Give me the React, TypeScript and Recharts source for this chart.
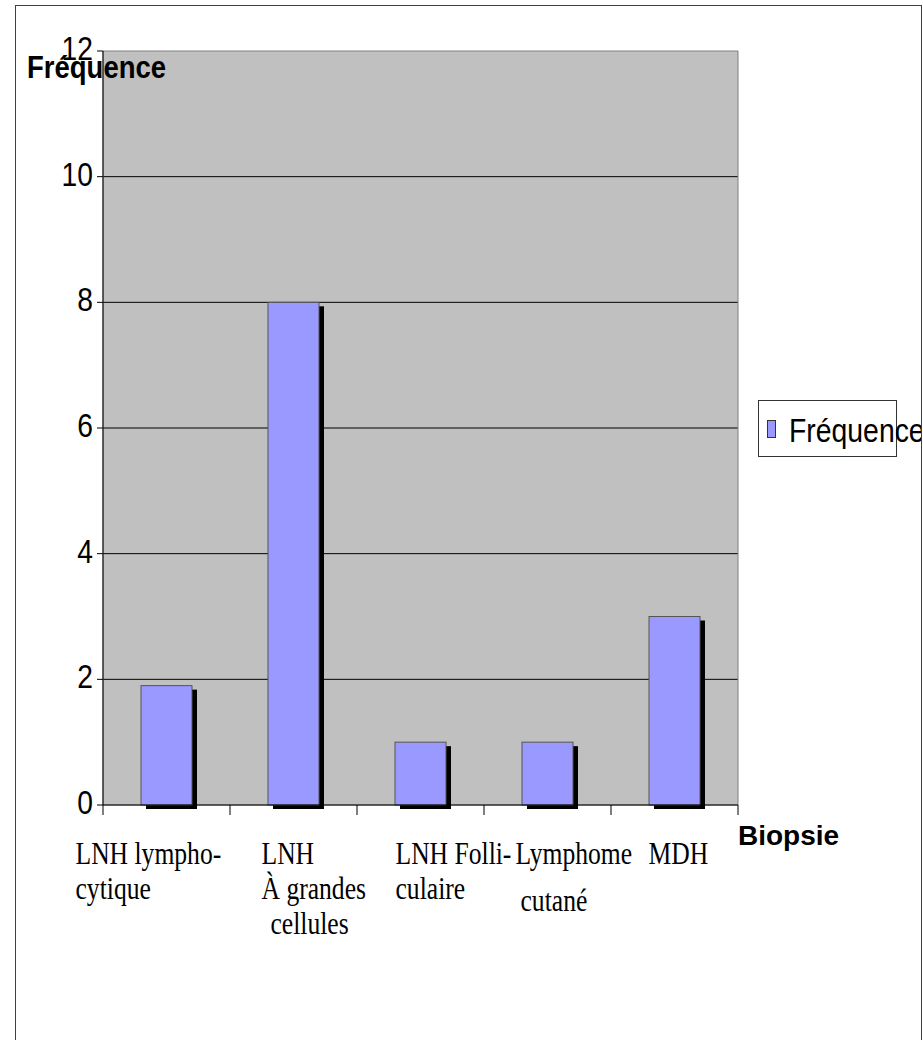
import React from 'react';
import { BarChart, Bar, XAxis, YAxis, CartesianGrid, ReferenceArea } from 'recharts';

// Biopsy results per lymphoma type
const categories = ['LNH lymphocytique', 'LNH à grandes cellules', 'LNH folliculaire', 'Lymphome cutané', 'MDH'];
const tickLines = [
  ['LNH lympho-', 'cytique'],
  ['LNH', 'À grandes', 'cellules'],
  ['LNH Folli-', 'culaire'],
  ['Lymphome', 'cutané'],
  ['MDH'],
];
const frequence = [1.9, 8, 1, 1, 3];
const yTicks = [0, 2, 4, 6, 8, 10, 12];
const gridValues = [2, 4, 6, 8, 10];

const data = categories.map((cat, i) => ({ cat, freq: frequence[i] }));

const SANS = '"Liberation Sans", Arial, sans-serif';
const SERIF = '"Liberation Serif", "Times New Roman", serif';

// where each wrapped label starts, relative to its band centre
const labelDx = [-91, -32, -25, -32, -26];
const lineShift: Record<string, [number, number]> = {
  cellules: [9, 0],
  'cutané': [5, 12],
};

// label lines plus a tick mark on the band edges (Excel style)
function CategoryTick(props: any) {
  const { x, y, payload, width } = props;
  const i = categories.indexOf(payload.value);
  if (i < 0) return null;
  const half = width / (2 * categories.length);
  return (
    <g>
      <line x1={x - half} x2={x - half} y1={y} y2={y + 10} stroke="#000" />
      {i === categories.length - 1 && <line x1={x + half} x2={x + half} y1={y} y2={y + 10} stroke="#000" />}
      {tickLines[i].map((ln, k) => {
        const [ex, ey] = lineShift[ln] || [0, 0];
        return (
          <text
            key={ln}
            transform={`translate(${x + labelDx[i] + ex}, ${y + 59 + 35 * k + ey}) scale(0.8, 1)`}
            fontFamily={SERIF}
            fontSize={32}
            fill="#000"
          >
            {ln}
          </text>
        );
      })}
    </g>
  );
}

function YTick(props: any) {
  const { x, y, payload } = props;
  return (
    <text
      transform={`translate(${x}, ${y + 9}) scale(0.83, 1)`}
      textAnchor="end"
      fontFamily={SANS}
      fontSize={34}
      fill="#000"
    >
      {payload.value}
    </text>
  );
}

function ShadowBar(props: any) {
  const { x, y, width, height } = props;
  return (
    <g>
      <rect x={x + 5} y={y + 4} width={width} height={height} fill="#000" />
      <rect x={x} y={y} width={width} height={height} fill="#9999ff" stroke="#555" strokeWidth={1} />
    </g>
  );
}

const yTitle = (props: any) => {
  const vb = props.viewBox;
  return (
    <text
      transform={`translate(${vb.x + 11}, ${vb.y + 27}) scale(0.86, 1)`}
      fontFamily={SANS}
      fontWeight="bold"
      fontSize={32}
      fill="#000"
    >
      Fréquence
    </text>
  );
};

const xTitle = (props: any) => {
  const vb = props.viewBox;
  return (
    <text x={vb.x + vb.width} y={vb.y + 40} fontFamily={SANS} fontWeight="bold" fontSize={28} fill="#000">
      Biopsie
    </text>
  );
};

export default function App() {
  return (
    <div
      style={{
        position: 'absolute',
        left: 15,
        top: 5,
        width: 905,
        height: 1034,
        border: '1px solid #404040',
        borderBottom: 'none',
        overflow: 'hidden',
        background: '#fff',
      }}
    >
      <BarChart width={905} height={1030} data={data} margin={{ top: 45, right: 183, bottom: 230, left: 0 }}>
        <CartesianGrid
          vertical={false}
          horizontalValues={gridValues}
          fill="#c0c0c0"
          fillOpacity={1}
          stroke="#000"
        />
        <ReferenceArea y1={0} y2={12} fill="none" stroke="#808080" />
        <XAxis
          dataKey="cat"
          type="category"
          height={1}
          interval={0}
          tickLine={false}
          axisLine={{ stroke: '#000' }}
          tickSize={0}
          tickMargin={0}
          tick={<CategoryTick />}
          label={{ content: xTitle }}
        />
        <YAxis
          domain={[0, 12]}
          ticks={yTicks}
          interval={0}
          width={87}
          tickSize={6}
          tickMargin={4}
          axisLine={{ stroke: '#000' }}
          tickLine={{ stroke: '#000' }}
          tick={<YTick />}
          label={{ content: yTitle }}
        />
        <Bar dataKey="freq" barSize={51} isAnimationActive={false} shape={ShadowBar} />
      </BarChart>
      <svg width={200} height={60} style={{ position: 'absolute', left: 742, top: 394, overflow: 'visible' }}>
        <rect x={0.5} y={0.5} width={138} height={56} fill="#fff" stroke="#333" />
        <rect x={9.5} y={20.5} width={8} height={17} fill="#9999ff" stroke="#333" />
        <text transform="translate(31, 42) scale(0.86, 1)" fontFamily={SANS} fontSize={33} fill="#000">
          Fréquence
        </text>
      </svg>
    </div>
  );
}
